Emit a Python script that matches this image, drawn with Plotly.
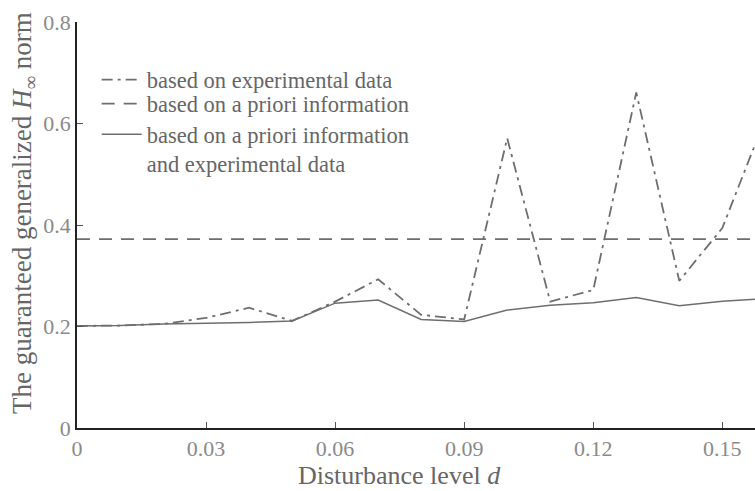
import plotly.graph_objects as go

d = [0.00, 0.01, 0.02, 0.03, 0.04, 0.05, 0.06, 0.07, 0.08, 0.09,
     0.10, 0.11, 0.12, 0.13, 0.14, 0.15, 0.16]
experimental = [0.201, 0.202, 0.205, 0.217, 0.237, 0.211, 0.249, 0.293, 0.223, 0.214,
                0.571, 0.249, 0.272, 0.661, 0.290, 0.394, 0.61]
apriori = [0.372] * len(d)
combined = [0.201, 0.202, 0.205, 0.206, 0.208, 0.211, 0.246, 0.252, 0.214, 0.210,
            0.2325, 0.242, 0.247, 0.257, 0.241, 0.250, 0.255]

xticks = [0, 0.03, 0.06, 0.09, 0.12, 0.15]
xticklabels = ["0", "0.03", "0.06", "0.09", "0.12", "0.15"]
yticks = [0, 0.2, 0.4, 0.6, 0.8]
yticklabels = ["0", "0.2", "0.4", "0.6", "0.8"]

FONT = "Liberation Serif, Times New Roman, serif"
LINE = "#6e6e6e"
TXT = "#666666"

fig = go.Figure()
fig.add_trace(go.Scatter(x=d, y=experimental, mode="lines",
                         name="based on experimental data", legend="legend",
                         line=dict(color=LINE, width=1.8, dash="11px,5px,3px,5px")))
fig.add_trace(go.Scatter(x=d, y=apriori, mode="lines",
                         name="based on a priori information", legend="legend2",
                         line=dict(color=LINE, width=1.8, dash="13px,9px")))
fig.add_trace(go.Scatter(x=d, y=combined, mode="lines",
                         name="based on a priori information<br>and experimental data",
                         legend="legend3",
                         line=dict(color=LINE, width=1.5)))


def leg(ypix, anchor="middle"):
    return dict(x=0.029, y=(428 - ypix) / 406, xanchor="left", yanchor=anchor,
                valign="top", bgcolor="rgba(0,0,0,0)",
                font=dict(size=22.5, family=FONT, color=TXT), itemwidth=40,
                borderwidth=0)


fig.update_layout(
    width=755, height=491,
    margin=dict(l=77, r=0, t=22, b=63),
    paper_bgcolor="white", plot_bgcolor="white",
    font=dict(family=FONT, color=TXT, size=20),
    showlegend=True,
    legend=leg(80),
    legend2=leg(104),
    legend3=leg(113, "top"),
    xaxis=dict(range=[0, 0.1576], tickvals=xticks, ticktext=xticklabels,
               showline=True, linecolor="#222222", linewidth=1.5,
               ticks="inside", ticklen=6, tickcolor="#555555",
               showgrid=False, zeroline=False,
               tickfont=dict(size=22, color="#8a8a8a", family=FONT)),
    yaxis=dict(range=[0, 0.8], tickvals=yticks, ticktext=yticklabels,
               showline=True, linecolor="#222222", linewidth=1.5,
               ticks="inside", ticklen=6, tickcolor="#555555",
               showgrid=False, zeroline=False,
               tickfont=dict(size=22, color="#8a8a8a", family=FONT)),
    annotations=[
        dict(text="Disturbance level <i>d</i>", xref="paper", yref="paper",
             x=(399 - 77) / 678, y=(428 - 475) / 406, xanchor="center", yanchor="middle",
             showarrow=False, font=dict(size=26, color=TXT, family=FONT)),
        dict(text="The guaranteed generalized <i>H</i><sub>∞</sub> norm", xref="paper", yref="paper",
             x=(24 - 77) / 678, y=(428 - 213) / 406, xanchor="center", yanchor="middle",
             textangle=-90, showarrow=False, font=dict(size=27, color=TXT, family=FONT)),
    ],
)

fig.write_html("out.html")
